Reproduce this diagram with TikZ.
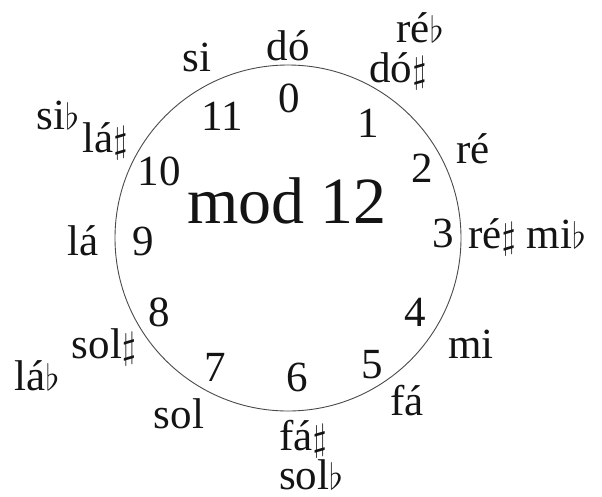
\documentclass[tikz,border=0pt]{standalone}
\usepackage{fontspec}
\setmainfont{Liberation Serif}
\usetikzlibrary{positioning}
\definecolor{mzink}{HTML}{141414}
\definecolor{mzline}{HTML}{4A4A4A}
\definecolor{mzpage}{HTML}{FFFFFF}
\newcommand{\mzsharp}{\resizebox{!}{26pt}{$\sharp$}}
\newcommand{\mzflat}{\resizebox{!}{27pt}{$\flat$}}
\tikzset{
  mzring/.style={
    draw=mzline,
    line width=0.9pt,
    circle,
    minimum size=346pt,
    inner sep=0pt
  },
  mznum/.style={
    font=\fontsize{43}{43}\selectfont,
    text=mzink,
    anchor=base,
    inner sep=0pt
  },
  mznote/.style={
    mznum
  },
  mztitle/.style={
    mznum,
    font=\fontsize{66}{66}\selectfont
  }
}

\begin{document}
\begin{tikzpicture}[x=1pt,y=-1pt]
  \useasboundingbox[fill=mzpage] (0,0) rectangle (602,496);

  \node[mzring] (dial) at (288,238) {};
  \node[mztitle] (title) at (287,223) {mod 12};

  \node[mznum] (n0) at (289,112) {0};
  \node[mznum] (n1) at (368,137) {1};
  \node[mznum] (n2) at (422,182) {2};
  \node[mznum] (n3) at (443,247) {3};
  \node[mznum] (n4) at (415,326) {4};
  \node[mznum] (n5) at (372,378) {5};
  \node[mznum] (n6) at (297,391) {6};
  \node[mznum] (n7) at (215,381) {7};
  \node[mznum] (n8) at (159,326) {8};
  \node[mznum] (n9) at (143,255) {9};
  \node[mznum] (n10) at (159,185) {10};
  \node[mznum] (n11) at (222,130) {11};

  \node[mznote] (do) at (288,60) {dó};
  \node[mznote] (reb) at (420,42) {ré\mzflat};
  \node[mznote] (dos) at (398,82) {dó\mzsharp};
  \node[mznote] (re) at (473,163) {ré};
  \node[mznote, anchor=base west] (res) at (468,248) {ré\mzsharp{} mi\mzflat};
  \node[mznote] (mi) at (471,358) {mi};
  \node[mznote] (fa) at (407,415) {fá};
  \node[mznote] (fas) at (303,450) {fá\mzsharp};
  \node[mznote] (solb) at (311,489) {sol\mzflat};
  \node[mznote] (sol) at (179,428) {sol};
  \node[mznote] (sols) at (104,358) {sol\mzsharp};
  \node[mznote] (lab) at (37,390) {lá\mzflat};
  \node[mznote] (la) at (83,255) {lá};
  \node[mznote] (las) at (105,152) {lá\mzsharp};
  \node[mznote] (sib) at (58,129) {si\mzflat};
  \node[mznote] (si) at (197,71) {si};
\end{tikzpicture}
\end{document}
